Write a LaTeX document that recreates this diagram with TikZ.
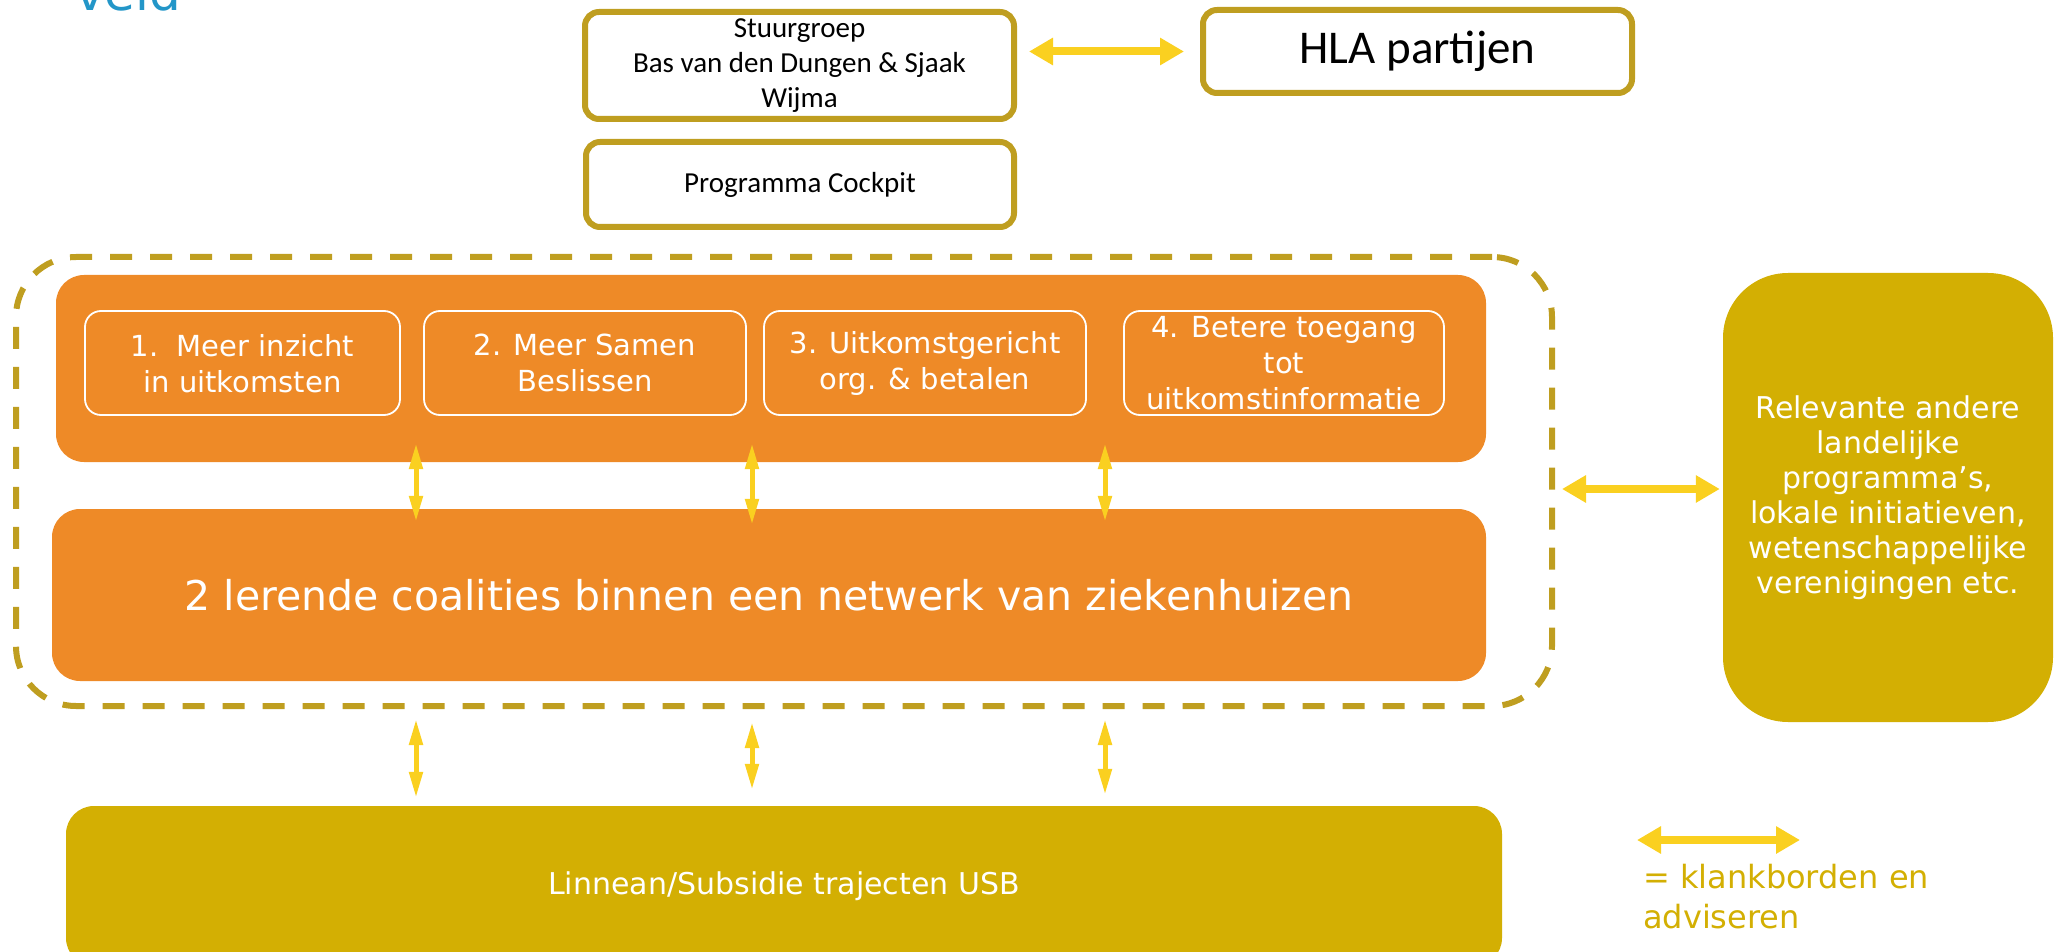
\documentclass[tikz,border=0pt]{standalone}
\usepackage{fontspec}
\setmainfont{DejaVu Sans}
\newfontfamily\carl{Carlito}
\usetikzlibrary{arrows.meta,calc}
\definecolor{orng}{HTML}{EE8A27}
\definecolor{gld}{HTML}{D3AF03}
\definecolor{gbord}{HTML}{BF9E20}
\definecolor{yarr}{HTML}{FAD020}
\definecolor{vblue}{HTML}{2396C8}
\begin{document}
\begin{tikzpicture}[x=1pt,y=-1pt,
  outbox/.style={draw=gbord, line width=6pt, rounded corners=14pt, fill=white, inner sep=0pt, align=center, text=black},
  orbox/.style={fill=orng, rounded corners=28pt, inner sep=0pt, text=white, align=center},
  subbox/.style={draw=white, line width=1.8pt, rounded corners=16pt, inner sep=0pt, text=white, align=center, font=\fontsize{29}{36}\selectfont},
  gbox/.style={fill=gld, inner sep=0pt, text=white, align=center},
  harr/.style={draw=yarr, line width=8pt, {Triangle[width=26pt,length=24pt]}-{Triangle[width=26pt,length=24pt]}},
  varr/.style={draw=yarr, line width=5pt, {Triangle[width=13pt,length=26pt]}-{Triangle[width=13pt,length=26pt]}}
]
\useasboundingbox (0,0) rectangle (2057,952);
\clip (0,0) rectangle (2057,952);
% title fragment
\node[anchor=base west, inner sep=0pt, text=vblue, font=\fontsize{50}{60}\selectfont] (veld) at (75,11) {veld};
% top boxes
\node[outbox, minimum width=429pt, minimum height=107pt, font=\carl\fontsize{29}{35}\selectfont] (stuur) at (799.5,65.5) {Stuurgroep\\Bas van den Dungen \& Sjaak\\Wijma};
\node[outbox, minimum width=429pt, minimum height=83pt, font=\carl\fontsize{47}{54}\selectfont] (hla) at (1417.5,51.5) {HLA partijen};
\node[outbox, minimum width=428pt, minimum height=85pt, font=\carl\fontsize{29}{35}\selectfont] (cockpit) at (800,184.5) {Programma Cockpit};
% dashed group
\node[draw=gbord, line width=6pt, dash pattern=on 22pt off 18pt, rounded corners=60pt, minimum width=1536pt, minimum height=449pt, inner sep=0pt] (group) at (784,481.5) {};
% orange boxes
\node[orbox, minimum width=1430pt, minimum height=187pt] (topo) at (771,368.5) {};
\node[subbox, minimum width=315pt, minimum height=104pt, text depth=0pt] (s1) at (242.5,363) {\raisebox{0pt}{}1.\ \ Meer inzicht\\in uitkomsten};
\node[subbox, minimum width=322pt, minimum height=104pt] (s2) at (585,363) {2. Meer Samen\\Beslissen};
\node[subbox, minimum width=322pt, minimum height=104pt] (s3) at (925,363) {3. Uitkomstgericht\\org. \& betalen};
\node[subbox, minimum width=320pt, minimum height=104pt] (s4) at (1284,363) {4. Betere toegang\\tot\\uitkomstinformatie};
\node[orbox, minimum width=1434pt, minimum height=172pt, font=\fontsize{41}{48}\selectfont] (lowo) at (769,595) {2 lerende coalities binnen een netwerk van ziekenhuizen};
% right box
\node[gbox, rounded corners=65pt, minimum width=330pt, minimum height=449pt, font=\fontsize{30}{35}\selectfont] (right) at (1888,497.5) {Relevante andere\\landelijke\\programma’s,\\lokale initiatieven,\\wetenschappelijke\\verenigingen etc.};
% bottom box
\node[gbox, rounded corners=28pt, minimum width=1436pt, minimum height=160pt, font=\fontsize{30}{36}\selectfont] (bot) at (784,886) {Linnean/Subsidie trajecten USB};
% legend
\coordinate (la) at (1637,840);
\coordinate (lb) at (1800,840);
\node[anchor=west, inner sep=0pt, align=left, text=gld, font=\fontsize{32}{40}\selectfont] (legend) at (1643,897) {= klankborden en\\adviseren};
% arrow columns
\coordinate (c1) at (416,0);
\coordinate (c2) at (752,0);
\coordinate (c3) at (1105,0);
\coordinate (hy) at (0,489);
% connectors
\draw[harr] ([xshift=12pt]stuur.east |- hla.west) -- ([xshift=-16pt]hla.west);
\draw[harr] ([xshift=7pt]group.east |- hy) -- ([xshift=-3pt]right.west |- hy);
\draw[harr] (la) -- (lb);
\draw[varr] ([yshift=19pt]topo.south -| c1) -- ([yshift=-13pt]lowo.north -| c1);
\draw[varr] ([yshift=19pt]topo.south -| c2) -- ([yshift=-16pt]lowo.north -| c2);
\draw[varr] ([yshift=19pt]topo.south -| c3) -- ([yshift=-13pt]lowo.north -| c3);
\draw[varr] ([yshift=-10pt]group.south -| c1) -- ([yshift=8pt]bot.north -| c1);
\draw[varr] ([yshift=-13pt]group.south -| c2) -- ([yshift=16pt]bot.north -| c2);
\draw[varr] ([yshift=-10pt]group.south -| c3) -- ([yshift=11pt]bot.north -| c3);
\end{tikzpicture}
\end{document}
